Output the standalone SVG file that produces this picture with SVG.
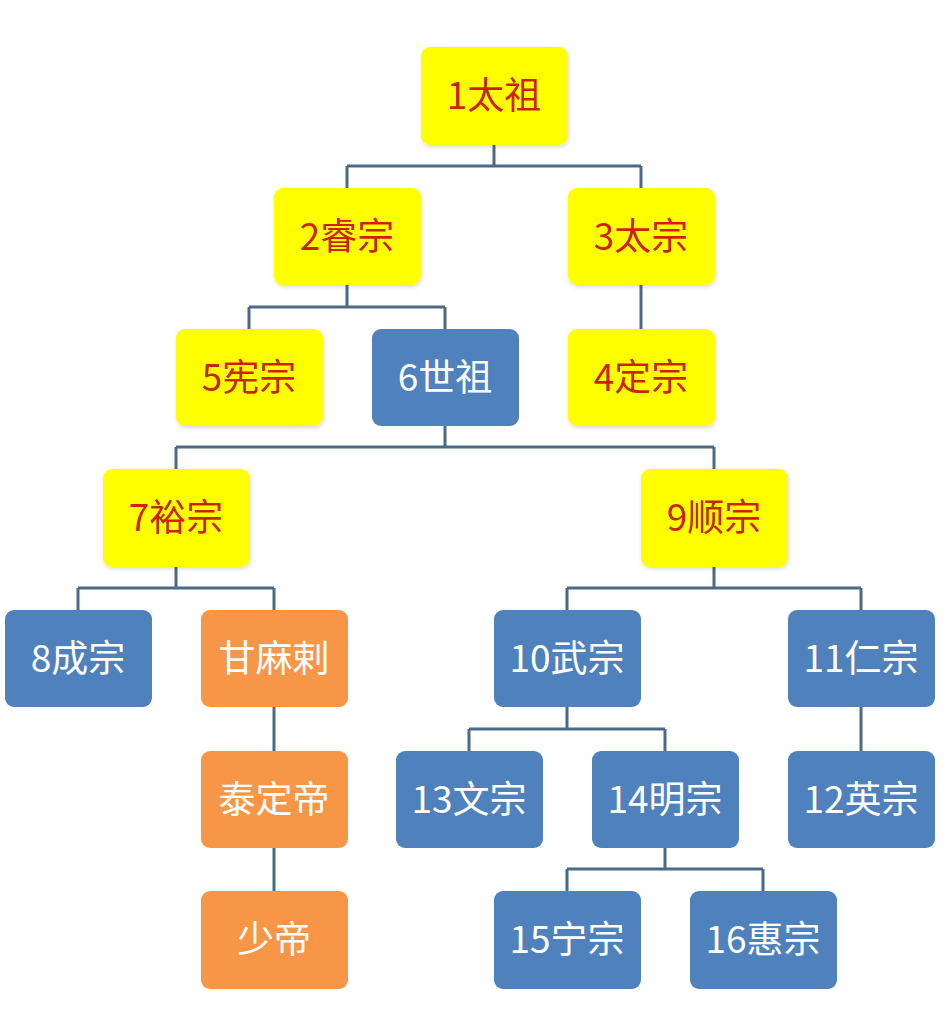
<svg xmlns="http://www.w3.org/2000/svg" width="948" height="1036" viewBox="0 0 948 1036">
<style>
.y{fill:#FFFF00}
.b{fill:#4F81BD}
.o{fill:#F79646}
rect{rx:9;ry:9}
text{font-family:"Noto Sans CJK SC","Liberation Sans",sans-serif;font-size:37px;text-anchor:middle}
.ty{fill:#CC2200}
.tw{fill:#FFFFFF}
.c{stroke:#4A6B87;stroke-width:3;fill:none}
</style>
<defs>
<filter id="sh" x="-10%" y="-10%" width="125%" height="125%">
<feDropShadow dx="1" dy="2" stdDeviation="2" flood-color="#000" flood-opacity="0.15"/>
</filter>
</defs>
<rect width="948" height="1036" fill="#FFFFFF" rx="0" ry="0"/>
<g id="connectors" class="c">
<path d="M494 145V166M347 166H641M347 166V188M641 166V188"/>
<path d="M347 285V307M249 307H445M249 307V329M445 307V329"/>
<path d="M641 285V329"/>
<path d="M445 426V447M176 447H714M176 447V469M714 447V469"/>
<path d="M176 567V588M78 588H274M78 588V610M274 588V610"/>
<path d="M714 567V588M567 588H861M567 588V610M861 588V610"/>
<path d="M274 707V751M274 848V891"/>
<path d="M567 707V729M469 729H665M469 729V751M665 729V751"/>
<path d="M861 707V751"/>
<path d="M665 848V869M567 869H763M567 869V891M763 869V891"/>
</g>
<g id="n1" filter="url(#sh)"><rect class="y" x="421" y="47" width="147" height="98"/><text class="ty" x="494" y="109">1太祖</text></g>
<g id="n2" filter="url(#sh)"><rect class="y" x="274" y="188" width="147" height="97"/><text class="ty" x="347" y="250">2睿宗</text></g>
<g id="n3" filter="url(#sh)"><rect class="y" x="568" y="188" width="147" height="97"/><text class="ty" x="641" y="250">3太宗</text></g>
<g id="n5" filter="url(#sh)"><rect class="y" x="176" y="329" width="147" height="97"/><text class="ty" x="249" y="391">5宪宗</text></g>
<g id="n6"><rect class="b" x="372" y="329" width="147" height="97"/><text class="tw" x="445" y="391">6世祖</text></g>
<g id="n4" filter="url(#sh)"><rect class="y" x="568" y="329" width="147" height="97"/><text class="ty" x="641" y="391">4定宗</text></g>
<g id="n7" filter="url(#sh)"><rect class="y" x="103" y="469" width="147" height="98"/><text class="ty" x="176" y="531">7裕宗</text></g>
<g id="n9" filter="url(#sh)"><rect class="y" x="641" y="469" width="147" height="98"/><text class="ty" x="714" y="531">9顺宗</text></g>
<g id="n8"><rect class="b" x="5" y="610" width="147" height="97"/><text class="tw" x="78" y="672">8成宗</text></g>
<g id="gml"><rect class="o" x="201" y="610" width="147" height="97"/><text class="tw" x="274" y="672">甘麻剌</text></g>
<g id="n10"><rect class="b" x="494" y="610" width="147" height="97"/><text class="tw" x="567" y="672">10武宗</text></g>
<g id="n11"><rect class="b" x="788" y="610" width="147" height="97"/><text class="tw" x="861" y="672">11仁宗</text></g>
<g id="tdd"><rect class="o" x="201" y="751" width="147" height="97"/><text class="tw" x="274" y="813">泰定帝</text></g>
<g id="n13"><rect class="b" x="396" y="751" width="147" height="97"/><text class="tw" x="469" y="813">13文宗</text></g>
<g id="n14"><rect class="b" x="592" y="751" width="147" height="97"/><text class="tw" x="665" y="813">14明宗</text></g>
<g id="n12"><rect class="b" x="788" y="751" width="147" height="97"/><text class="tw" x="861" y="813">12英宗</text></g>
<g id="sd"><rect class="o" x="201" y="891" width="147" height="98"/><text class="tw" x="274" y="953">少帝</text></g>
<g id="n15"><rect class="b" x="494" y="891" width="147" height="98"/><text class="tw" x="567" y="953">15宁宗</text></g>
<g id="n16"><rect class="b" x="690" y="891" width="147" height="98"/><text class="tw" x="763" y="953">16惠宗</text></g>
</svg>
